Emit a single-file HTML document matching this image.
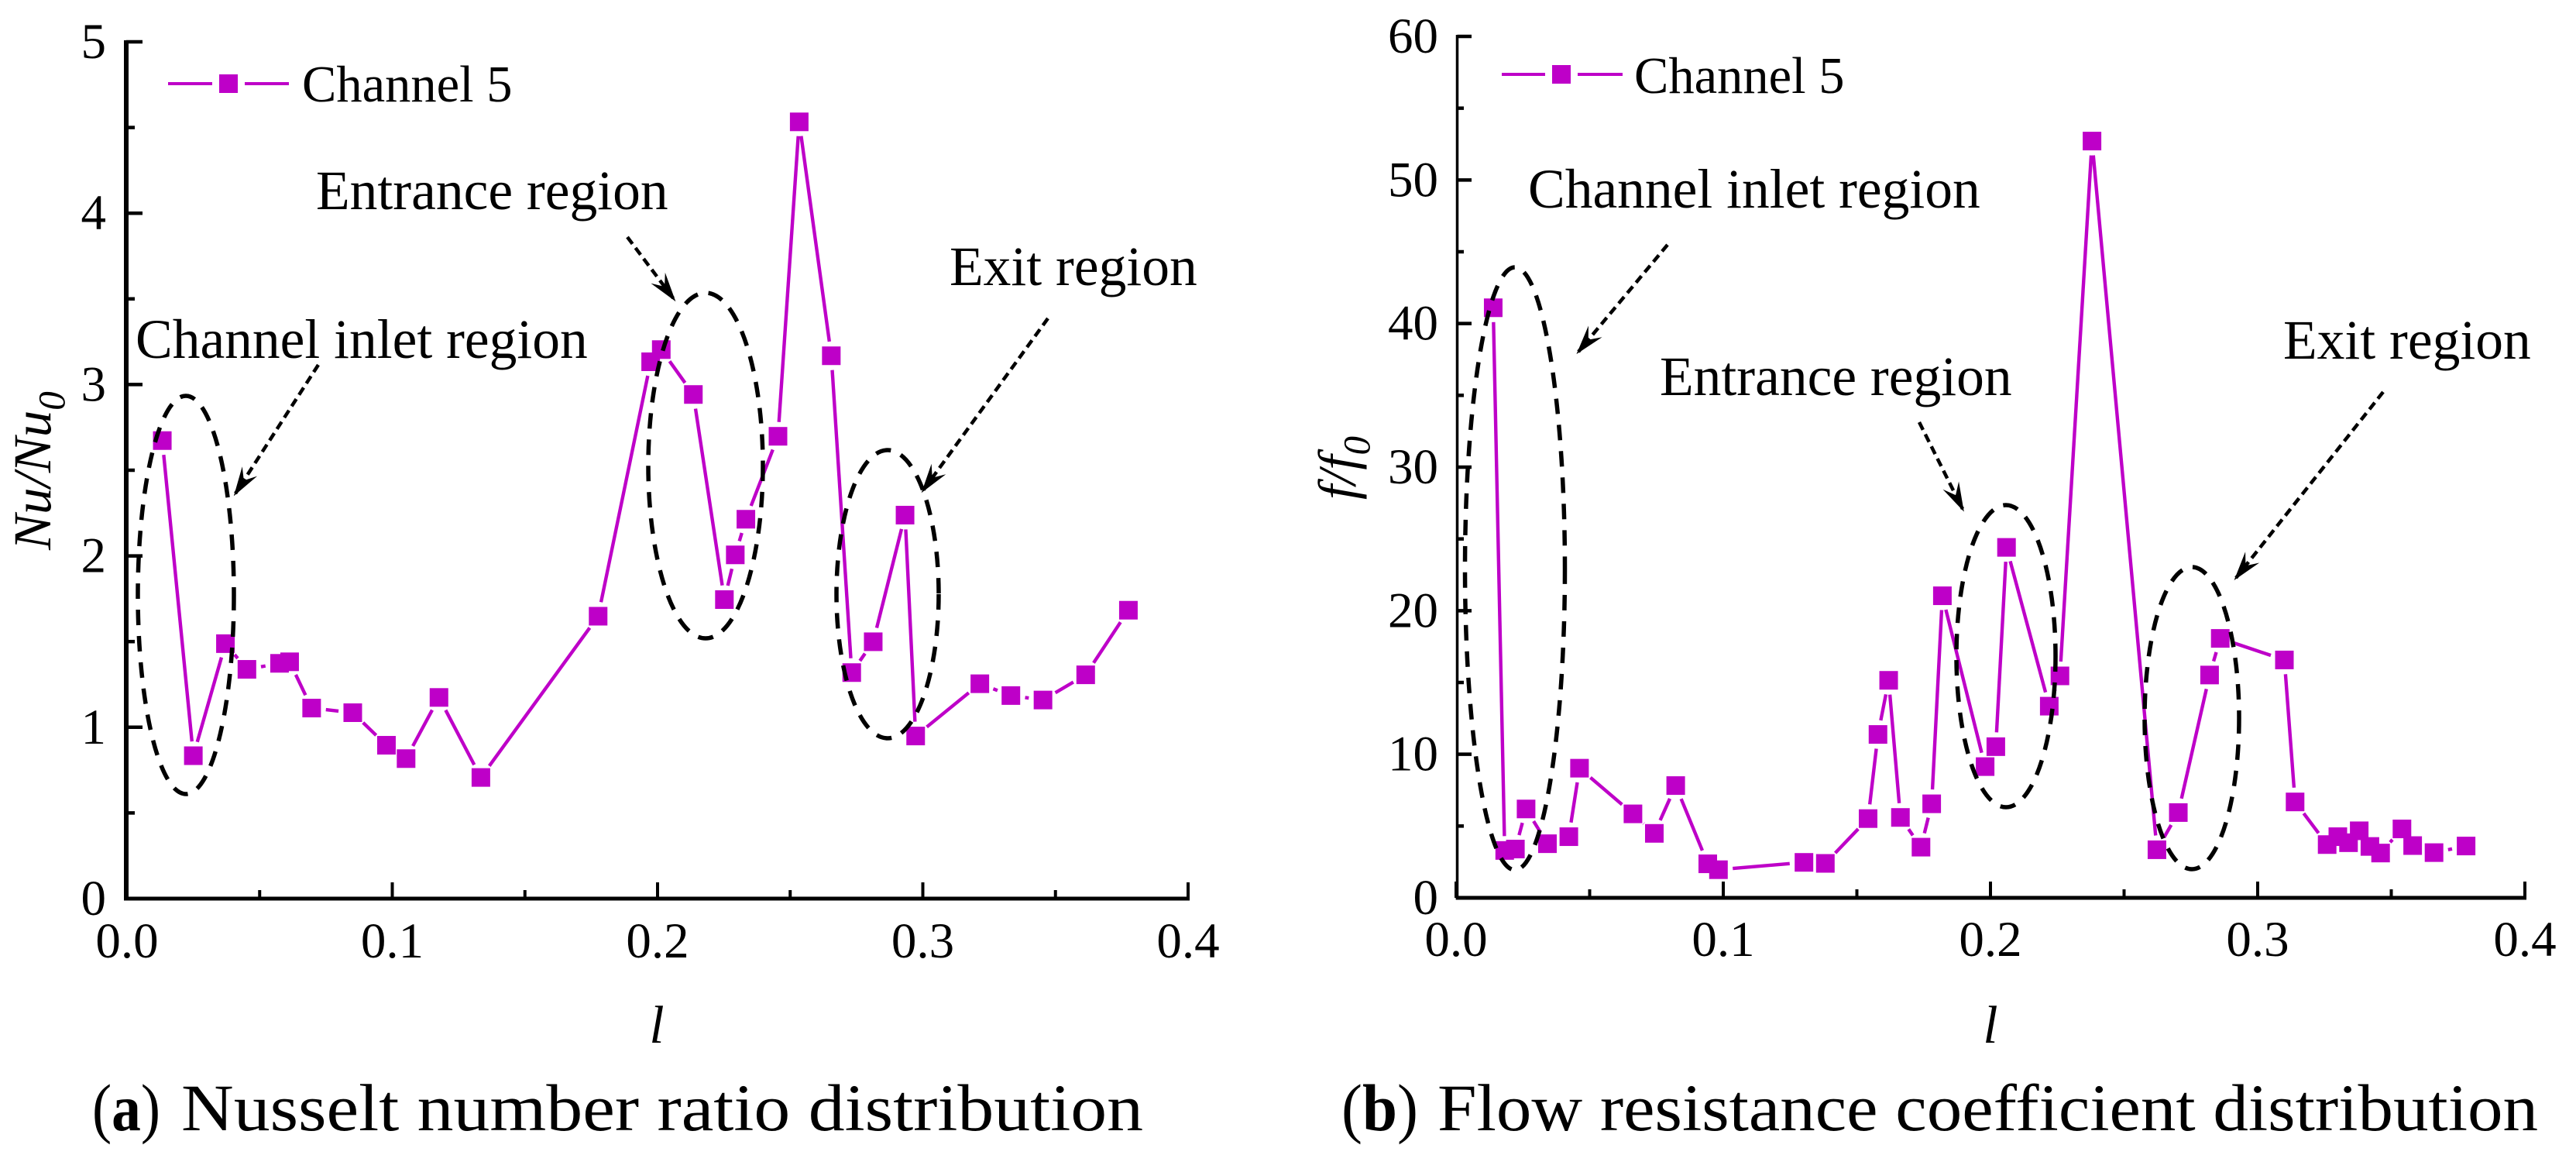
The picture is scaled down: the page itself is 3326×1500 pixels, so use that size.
<!DOCTYPE html>
<html lang="en">
<head>
<meta charset="utf-8">
<title>Channel 5 distributions</title>
<style>
html,body{margin:0;padding:0;background:#fff;}
svg{display:block;}
text{font-family:"Liberation Serif",serif;fill:#000;}
.ann{font-size:71.5px;}
.leg{font-size:66.5px;}
.tick{font-size:65px;}
.cap{font-size:86px;}
.ax{font-size:69px;font-style:italic;}
.ell{fill:none;stroke:#000;stroke-width:5.5;stroke-dasharray:20 14;}
.arr{fill:none;stroke:#000;stroke-width:4.5;stroke-dasharray:11 6.5;}
</style>
</head>
<body>
<svg id="figure" xmlns="http://www.w3.org/2000/svg" width="3326" height="1500" viewBox="0 0 3326 1500">
  <defs>
    <marker id="barb" markerUnits="userSpaceOnUse" markerWidth="50" markerHeight="40" refX="40" refY="20" orient="auto">
      <path d="M44,20 L6,8.5 L20,20 L6,31.5 Z" fill="#000"/>
    </marker>
  </defs>
  <rect x="0" y="0" width="3326" height="1500" fill="#fff"/>

  <g id="panel-a"></g>
  <g id="panel-b"></g>

  <g>
    <ellipse class="ell" cx="240" cy="768" rx="62" ry="257"/>
    <ellipse class="ell" cx="911" cy="601" rx="74" ry="223"/>
    <ellipse class="ell" cx="1146" cy="767" rx="66" ry="186"/>
    <line class="arr" x1="411" y1="471" x2="304" y2="637" marker-end="url(#barb)"/>
    <line class="arr" x1="810" y1="306" x2="870" y2="386" marker-end="url(#barb)"/>
    <line class="arr" x1="1353" y1="411" x2="1192" y2="633" marker-end="url(#barb)"/>
    <text class="ann" x="175" y="462">Channel inlet region</text>
    <text class="ann" x="408" y="270">Entrance region</text>
    <text class="ann" x="1226" y="368">Exit region</text>
    <line x1="217" y1="108" x2="274" y2="108" stroke="#be00c8" stroke-width="4"/>
    <line x1="316" y1="108" x2="373" y2="108" stroke="#be00c8" stroke-width="4"/>
    <rect x="283" y="96" width="24" height="24" fill="#be00c8"/>
    <text class="leg" x="390" y="131">Channel 5</text>
    <text class="ax" transform="translate(65,710) rotate(-90)">Nu/Nu<tspan font-size="49" dy="18">0</tspan></text>
    <text class="ax" x="848" y="1346" text-anchor="middle">l</text>
    <text class="cap" x="119" y="1459" textLength="88" lengthAdjust="spacingAndGlyphs">(<tspan font-weight="bold">a</tspan>)</text>
    <text class="cap" x="234" y="1459" textLength="1242" lengthAdjust="spacingAndGlyphs">Nusselt number ratio distribution</text>
  </g>

  <g>
    <ellipse class="ell" cx="1956" cy="734" rx="64.5" ry="389"/>
    <ellipse class="ell" cx="2590" cy="847" rx="64" ry="195"/>
    <ellipse class="ell" cx="2830" cy="927" rx="61" ry="195"/>
    <line class="arr" x1="2153" y1="316" x2="2038" y2="454" marker-end="url(#barb)"/>
    <line class="arr" x1="2478" y1="545" x2="2534" y2="657" marker-end="url(#barb)"/>
    <line class="arr" x1="3077" y1="506" x2="2887" y2="746" marker-end="url(#barb)"/>
    <text class="ann" x="1973" y="268">Channel inlet region</text>
    <text class="ann" x="2143" y="510">Entrance region</text>
    <text class="ann" x="2948" y="463">Exit region</text>
    <line x1="1939" y1="96" x2="1995" y2="96" stroke="#be00c8" stroke-width="4"/>
    <line x1="2037" y1="96" x2="2095" y2="96" stroke="#be00c8" stroke-width="4"/>
    <rect x="2004" y="84" width="24" height="24" fill="#be00c8"/>
    <text class="leg" x="2110" y="120">Channel 5</text>
    <text class="ax" transform="translate(1750,645) rotate(-90)">f/f<tspan font-size="49" dy="18">0</tspan></text>
    <text class="ax" x="2570" y="1346" text-anchor="middle">l</text>
    <text class="cap" x="1732" y="1459" textLength="99" lengthAdjust="spacingAndGlyphs">(<tspan font-weight="bold">b</tspan>)</text>
    <text class="cap" x="1856" y="1459" textLength="1421" lengthAdjust="spacingAndGlyphs">Flow resistance coefficient distribution</text>
  </g>
</svg>

<script>
const xTickLabels = ['0.0', '0.1', '0.2', '0.3', '0.4'];
const yTickLabelsA = ['0', '1', '2', '3', '4', '5'];
const yTickLabelsB = ['0', '10', '20', '30', '40', '50', '60'];

const lengthsA = [0.0133, 0.025, 0.0371, 0.0452, 0.0575, 0.0613, 0.0696, 0.0851, 0.0978, 0.1052, 0.1176, 0.1334, 0.1776, 0.1974, 0.2014, 0.2135, 0.2252, 0.2293, 0.2333, 0.2454, 0.2534, 0.2655, 0.2732, 0.2813, 0.2933, 0.2973, 0.3215, 0.3332, 0.3453, 0.3614, 0.3775];
const nusseltRatio = [2.673, 0.834, 1.488, 1.338, 1.373, 1.382, 1.112, 1.085, 0.895, 0.817, 1.174, 0.707, 1.648, 3.133, 3.204, 2.942, 1.745, 2.006, 2.214, 2.698, 4.533, 3.168, 1.319, 1.499, 2.238, 0.949, 1.254, 1.185, 1.159, 1.306, 1.683];

const lengthsB = [0.0139, 0.0182, 0.0222, 0.0262, 0.0342, 0.0422, 0.0462, 0.0662, 0.0742, 0.0822, 0.0942, 0.0982, 0.1302, 0.1382, 0.1542, 0.1579, 0.1619, 0.1663, 0.174, 0.178, 0.182, 0.198, 0.202, 0.206, 0.222, 0.226, 0.238, 0.2623, 0.2703, 0.282, 0.286, 0.31, 0.314, 0.326, 0.33, 0.334, 0.338, 0.342, 0.346, 0.354, 0.358, 0.366, 0.378];
const frictionRatio = [41.1, 3.3, 3.4, 6.19, 3.77, 4.26, 9.03, 5.85, 4.49, 7.82, 2.37, 1.96, 2.47, 2.4, 5.52, 11.38, 15.15, 5.6, 3.53, 6.55, 21.04, 9.14, 10.53, 24.41, 13.35, 15.46, 52.71, 3.35, 5.94, 15.52, 18.07, 16.57, 6.68, 3.71, 4.26, 3.84, 4.67, 3.58, 3.12, 4.8, 3.64, 3.15, 3.61];

const SVG_NS = 'http://www.w3.org/2000/svg';
const SERIES_COLOR = '#be00c8';

function make(parent, tag, attrs, content) {
  const el = document.createElementNS(SVG_NS, tag);
  for (const key in attrs) el.setAttribute(key, attrs[key]);
  if (content !== undefined) el.textContent = content;
  parent.appendChild(el);
  return el;
}

function linearScale(d0, d1, r0, r1) {
  return function (v) { return r0 + (v - d0) * (r1 - r0) / (d1 - d0); };
}

function drawPanel(root, cfg) {
  const xs = cfg.xs, ys = cfg.ys;
  const xVals = xTickLabels.map(Number);
  const yVals = cfg.yLabels.map(Number);
  const x = linearScale(xVals[0], xVals[xVals.length - 1], cfg.left, cfg.right);
  const y = linearScale(yVals[0], yVals[yVals.length - 1], cfg.bottom, cfg.top);

  // y axis
  const yAxis = make(root, 'line', { x1: cfg.axisX, y1: cfg.top - 2, x2: cfg.axisX, y2: cfg.bottom + 2, stroke: '#000', 'stroke-width': cfg.axisWidth });
  
  
  // x axis
  const xAxis = make(root, 'line', { x1: cfg.axisX - cfg.axisWidth / 2, y1: cfg.bottom, x2: cfg.right + 2, y2: cfg.bottom, stroke: '#000', 'stroke-width': 5 });
  
  

  // y ticks and labels
  yVals.forEach(function (v, i) {
    const major = make(root, 'line', { x1: cfg.axisX, y1: y(v), x2: cfg.left + 20, y2: y(v), stroke: '#000', 'stroke-width': 4.5 });
    
    
    const label = make(root, 'text', { class: 'tick', x: cfg.yLabelRight, y: y(v) + 21, 'text-anchor': 'end' }, cfg.yLabels[i]);
    
    
    if (i < yVals.length - 1) {
      const mid = (v + yVals[i + 1]) / 2;
      const minor = make(root, 'line', { x1: cfg.axisX, y1: y(mid), x2: cfg.left + 10, y2: y(mid), stroke: '#000', 'stroke-width': 4.5 });
      
      
    }
  });

  // x ticks and labels
  xVals.forEach(function (v, i) {
    const major = make(root, 'line', { x1: x(v), y1: cfg.bottom, x2: x(v), y2: cfg.bottom - 21, stroke: '#000', 'stroke-width': 4 });
    
    
    const label = make(root, 'text', { class: 'tick', x: x(v), y: cfg.xLabelY, 'text-anchor': 'middle' }, xTickLabels[i]);
    
    
    if (i < xVals.length - 1) {
      const mid = (v + xVals[i + 1]) / 2;
      const minor = make(root, 'line', { x1: x(mid), y1: cfg.bottom, x2: x(mid), y2: cfg.bottom - 11, stroke: '#000', 'stroke-width': 4 });
      
      
    }
  });

  // line segments with the gap left around each symbol
  const GAP = 18.5;
  for (let i = 0; i < xs.length - 1; i++) {
    const x0 = x(xs[i]), y0 = y(ys[i]), x1 = x(xs[i + 1]), y1 = y(ys[i + 1]);
    const len = Math.hypot(x1 - x0, y1 - y0);
    if (len <= 2 * GAP) continue;
    const ux = (x1 - x0) / len, uy = (y1 - y0) / len;
    const seg = make(root, 'line', {
      x1: x0 + ux * GAP, y1: y0 + uy * GAP,
      x2: x1 - ux * GAP, y2: y1 - uy * GAP,
      stroke: SERIES_COLOR, 'stroke-width': 4.4
    });
    
    
  }

  // symbols
  xs.forEach(function (v, i) {
    const pt = make(root, 'rect', { x: x(v) - 12, y: y(ys[i]) - 12, width: 24, height: 24, fill: SERIES_COLOR });
    
    
  });
}

drawPanel(document.getElementById('panel-a'), {
  xs: lengthsA, ys: nusseltRatio, yLabels: yTickLabelsA,
  left: 164, right: 1534, bottom: 1160, top: 54,
  axisX: 163, axisWidth: 6,
  yLabelRight: 137, xLabelY: 1236
});
drawPanel(document.getElementById('panel-b'), {
  xs: lengthsB, ys: frictionRatio, yLabels: yTickLabelsB,
  left: 1880, right: 3260, bottom: 1159, top: 47,
  axisX: 1881.5, axisWidth: 3.5,
  yLabelRight: 1857, xLabelY: 1234
});
</script>
</body>
</html>
